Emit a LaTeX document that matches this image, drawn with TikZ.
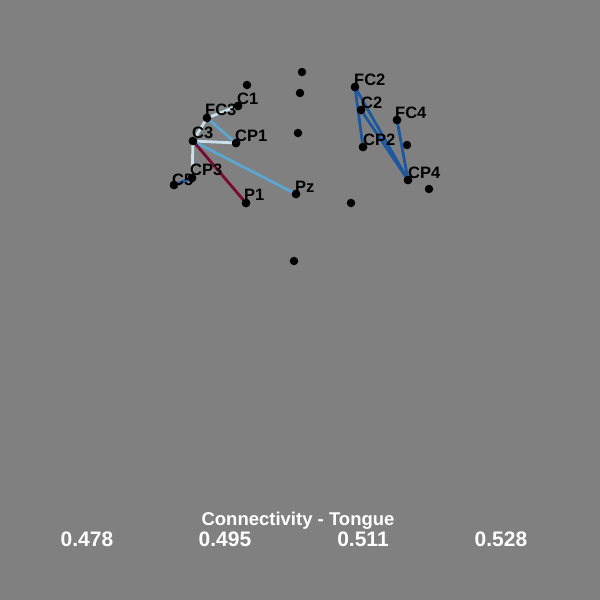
\documentclass[tikz,border=0pt]{standalone}
\usepackage{fontspec}
\setmainfont{Liberation Sans}
\begin{document}
\begin{tikzpicture}[x=1pt,y=-1pt,
  dot/.style={circle,fill=black,inner sep=0pt,minimum size=8.5pt},
  lab/.style={anchor=base west,inner sep=0pt,font=\bfseries\fontsize{16.5}{16.5}\selectfont,text=black},
  edge/.style={line width=2.8pt},
  darkblue/.style={edge,draw=dkblue},
  midblue/.style={edge,draw=mdblue},
  lightblue/.style={edge,draw=ltblue},
  darkred/.style={edge,draw=dkred},
  val/.style={text=white,font=\bfseries\fontsize{21}{21}\selectfont,inner sep=0pt},
  ttl/.style={text=white,font=\bfseries\fontsize{18.5}{18.5}\selectfont,inner sep=0pt}]
\definecolor{bg}{RGB}{128,128,128}
\definecolor{dkblue}{RGB}{28,88,160}
\definecolor{mdblue}{RGB}{92,166,210}
\definecolor{ltblue}{RGB}{200,224,236}
\definecolor{dkred}{RGB}{120,10,50}
\fill[bg] (0,0) rectangle (600,600);
\useasboundingbox (0,0) rectangle (600,600);
% electrodes
\node[dot] (u1) at (247,85) {};
\node[dot] (C1) at (238,106) {};
\node[dot] (FC3) at (207,118) {};
\node[dot] (C3) at (193,141) {};
\node[dot] (CP1) at (236,143) {};
\node[dot] (CP3) at (192,178) {};
\node[dot] (C5) at (174,185) {};
\node[dot] (P1) at (246,203) {};
\node[dot] (Pz) at (296,194) {};
\node[dot] (u2) at (302,72) {};
\node[dot] (u3) at (300,93) {};
\node[dot] (u4) at (298,133) {};
\node[dot] (u5) at (351,203) {};
\node[dot] (u6) at (294,261) {};
\node[dot] (FC2) at (355,87) {};
\node[dot] (C2) at (361,110) {};
\node[dot] (FC4) at (397,120) {};
\node[dot] (CP2) at (363,147) {};
\node[dot] (u7) at (407,145) {};
\node[dot] (CP4) at (408,180) {};
\node[dot] (u8) at (429,189) {};
% connections
\draw[lightblue] (FC3.center) -- (C1.center);
\draw[lightblue] (C3.center) -- (FC3.center);
\draw[lightblue] (C3.center) -- (CP1.center);
\draw[lightblue] (C3.center) -- (CP3.center);
\draw[midblue] (FC3.center) -- (CP1.center);
\draw[midblue] (C3.center) -- (Pz.center);
\draw[darkred] (C3.center) -- (P1.center);
\draw[darkblue] (C5.center) -- (CP3.center);
\draw[darkblue] (FC2.center) -- (CP2.center);
\draw[darkblue] (FC2.center) -- (CP4.center);
\draw[darkblue] (C2.center) -- (CP4.center);
\draw[darkblue] (FC4.center) -- (CP4.center);
% redraw dots on top
\foreach \n in {C1,FC3,C3,CP1,CP3,C5,P1,Pz,FC2,C2,FC4,CP2,CP4}
  \fill[black] (\n) circle (4.25pt);
% labels
\node[lab] (lC5) at (172,185) {C5};
\node[lab] (lC1) at (237,104) {C1};
\node[lab] (lFC3) at (205,115) {FC3};
\node[lab] (lC3) at (192,138) {C3};
\node[lab] (lCP1) at (235,141) {CP1};
\node[lab] (lCP3) at (190,175) {CP3};
\node[lab] (lP1) at (244,200) {P1};
\node[lab] (lPz) at (295,192) {Pz};
\node[lab] (lFC2) at (354,85) {FC2};
\node[lab] (lC2) at (361,108) {C2};
\node[lab] (lFC4) at (395,118) {FC4};
\node[lab] (lCP2) at (363,145) {CP2};
\node[lab] (lCP4) at (408,178) {CP4};
% colour bar text
\node[ttl] (title) at (298,521) {Connectivity - Tongue};
\node[val] (v1) at (87,539) {0.478};
\node[val] (v2) at (225,539) {0.495};
\node[val] (v3) at (363,539) {0.511};
\node[val] (v4) at (501,539) {0.528};
\end{tikzpicture}
\end{document}
